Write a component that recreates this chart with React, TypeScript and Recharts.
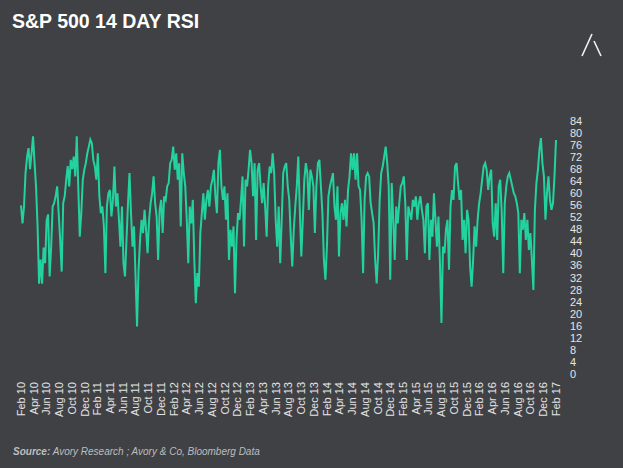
import { LineChart, Line, XAxis, YAxis } from "recharts";

// S&P 500 14-day RSI, Feb 2010 -> Feb 2017
const rsi = [
  56, 50, 55.6, 66.7, 72, 75, 68, 73.3, 78.9, 70, 62, 49, 30, 38, 30, 42, 36.8, 51, 53, 32.4,
  42, 55.6, 56.7, 59, 62.3, 53.4, 44.5, 34, 56.7, 59, 64.5, 69, 62.3, 71.1, 68, 72.2, 65.6, 78.9, 62.3, 45.6,
  53.4, 64.5, 67.8, 70, 73.3, 75.5, 77.8, 76.6, 71, 68.9, 64.5, 73.3, 59, 53.4, 55.6, 49, 33.5, 55.6, 60, 61.1,
  52.3, 57.8, 68.9, 55.6, 60, 51.2, 42.3, 55.6,
  36.8, 32.4, 44.5, 56.7, 66.7, 53.4, 42.3, 49, 32.4, 15.8, 34.6, 44.5, 51.2, 46.8, 54.5, 47.9, 40.1, 51.2, 56.7, 60,
  65.6, 56.7, 52.3, 37.9, 54.5, 57.8, 46.8, 59, 57.8, 62.3, 63.4, 70, 71.1, 75.5, 67.8, 73.3, 64.5, 70, 49, 73.3,
  66.7, 62.3, 51.2, 36.8, 55.6, 50, 57.8, 37.9, 23.5, 33.5, 29, 46.8, 53.4, 60, 51.2, 57.8, 61.1, 55.6, 62.3, 64.5,
  67.8, 59, 53.4, 70, 74.4, 62.3, 57.8,
  62.3, 51.2, 60, 37.9, 47.9, 42.3, 49, 26.8, 44.5, 53.4, 51.2, 57.8, 65.6, 42.3, 64.5, 62.3, 67.8, 74.4, 70, 59,
  70, 44.5, 67.8, 70, 62.3, 56.7, 63.4, 55.6, 45.6, 62.3, 68.9, 66.7, 73.3, 66.7, 51.2, 42.3, 55.6, 36.8, 51.2, 66.7,
  68.9, 70, 62.3, 57.8, 45.6, 35.7, 47.9, 55.6, 62.3, 72.2, 54.5, 39, 51.2, 64.5, 70, 66.7, 54.5, 67.8, 65.6, 62.3,
  46.8, 62.3, 70, 71.1, 62.3, 53.4, 37.9,
  31.3, 42.3, 59, 62.3, 64.5, 66.7, 55.6, 51.2, 62.3, 39, 53.4, 56.7, 51.2, 57.8, 49, 61.1, 65.6, 73.3, 67.8, 73.3,
  64.5, 73.3, 62.3, 61.1, 51.2, 33.5, 57.8, 65.6, 66.7, 65.6, 56.7, 53.4, 50, 37.9, 30.1, 40.1, 57.8, 66.7, 68.9, 72.2,
  75.5, 70, 62.3, 31.3, 63.4, 51.2, 37.9, 55.6, 50, 56.7, 62.3, 63.4, 65.6, 56.7, 37.9, 55.6, 53.4, 51.2, 57.8, 55.6,
  59, 51.2, 56.7, 59, 54.5,
  51.2, 40.1, 55.6, 56.7, 37.9, 51.2, 45.6, 60, 51.2, 42.3, 52.3, 36.8, 16.9, 42.3, 40.1, 47.9, 51.2, 34.6, 55.6, 61.1,
  57.8, 68.9, 70, 63.4, 57.8, 61.1, 44.5, 51.2, 40.1, 54.5, 51.2, 35.7, 29, 37.9, 49, 42.3, 51.2, 56.7, 60, 64.5,
  68.9, 70, 67.8, 61.1, 65.6, 67.8, 50, 45.6, 56.7, 44.5, 62.3, 64.5, 53.4, 33.5, 56.7, 62.3, 65.6, 66.7, 64.5, 62.3,
  60, 59, 56.7, 53.4, 33.5, 51.2, 47.9,
  53.4, 44.5, 51.2, 41.2, 46.8, 37.9, 27.9, 54.5, 63.4, 67.8, 74.4, 78.3, 70, 65.6, 51.2, 60, 65.6, 57.8, 54.5, 56.7,
  65.6, 77.7,
];

const monthLabels = [
  "Feb 10", "Apr 10", "Jun 10", "Aug 10", "Oct 10", "Dec 10",
  "Feb 11", "Apr 11", "Jun 11", "Aug 11", "Oct 11", "Dec 11",
  "Feb 12", "Apr 12", "Jun 12", "Aug 12", "Oct 12", "Dec 12",
  "Feb 13", "Apr 13", "Jun 13", "Aug 13", "Oct 13", "Dec 13",
  "Feb 14", "Apr 14", "Jun 14", "Aug 14", "Oct 14", "Dec 14",
  "Feb 15", "Apr 15", "Jun 15", "Aug 15", "Oct 15", "Dec 15",
  "Feb 16", "Apr 16", "Jun 16", "Aug 16", "Oct 16", "Dec 16",
  "Feb 17",
];

const yTicks = [0, 4, 8, 12, 16, 20, 24, 28, 32, 36, 40, 44, 48, 52, 56, 60, 64, 68, 72, 76, 80, 84];

const months = (monthLabels.length - 1) * 2;
const data = rsi.map((v, i) => ({ m: (i * months) / (rsi.length - 1), rsi: v }));
const xTicks = monthLabels.map((_, i) => i * 2);

const font = "'Liberation Sans', Arial, sans-serif";

function MonthTick({ x, y, payload }: any) {
  const label = monthLabels[Math.round(payload.value / 2)];
  return (
    <text
      x={x}
      y={y}
      dy="0.35em"
      transform={`rotate(-90, ${x}, ${y})`}
      textAnchor="end"
      fill="#e4e4e4"
      fontSize={11}
      fontFamily={font}
    >
      {label}
    </text>
  );
}

export default function App() {
  return (
    <div
      style={{
        position: "absolute",
        left: 0,
        top: 0,
        width: 623,
        height: 468,
        background: "#404145",
        overflow: "hidden",
        fontFamily: font,
      }}
    >
      <div
        style={{
          position: "absolute",
          left: 12,
          top: 10,
          color: "#ffffff",
          fontWeight: "bold",
          fontSize: 19.5,
        }}
      >
        S&amp;P 500 14 DAY RSI
      </div>
      <svg width={623} height={468} style={{ position: "absolute", left: 0, top: 0 }}>
        <line x1={582} y1={56} x2={592} y2={34} stroke="#f2f2f2" strokeWidth={1.6} />
        <line x1={594} y1={41} x2={601} y2={56} stroke="#f2f2f2" strokeWidth={1.6} />
      </svg>
      <div style={{ position: "absolute", left: 0, top: 0 }}>
        <LineChart
          width={623}
          height={468}
          data={data}
          margin={{ top: 121, right: 0, bottom: 0, left: 21 }}
        >
          <XAxis
            dataKey="m"
            type="number"
            domain={[0, months]}
            ticks={xTicks}
            interval={0}
            height={94}
            axisLine={false}
            tickLine={false}
            tickSize={0}
            tickMargin={8}
            tick={<MonthTick />}
          />
          <YAxis
            orientation="right"
            domain={[0, 84]}
            ticks={yTicks}
            interval={0}
            width={67}
            axisLine={false}
            tickLine={false}
            tickSize={0}
            tickMargin={14}
            tick={{ fill: "#e4e4e4", fontSize: 11, fontFamily: font }}
          />
          <Line
            type="linear"
            dataKey="rsi"
            stroke="#22d3a0"
            strokeWidth={2}
            dot={false}
            isAnimationActive={false}
          />
        </LineChart>
      </div>
      <div
        style={{
          position: "absolute",
          left: 13,
          top: 446,
          color: "#bdbdbd",
          fontStyle: "italic",
          fontSize: 10,
        }}
      >
        <b>Source:</b> Avory Research ; Avory &amp; Co, Bloomberg Data
      </div>
    </div>
  );
}
